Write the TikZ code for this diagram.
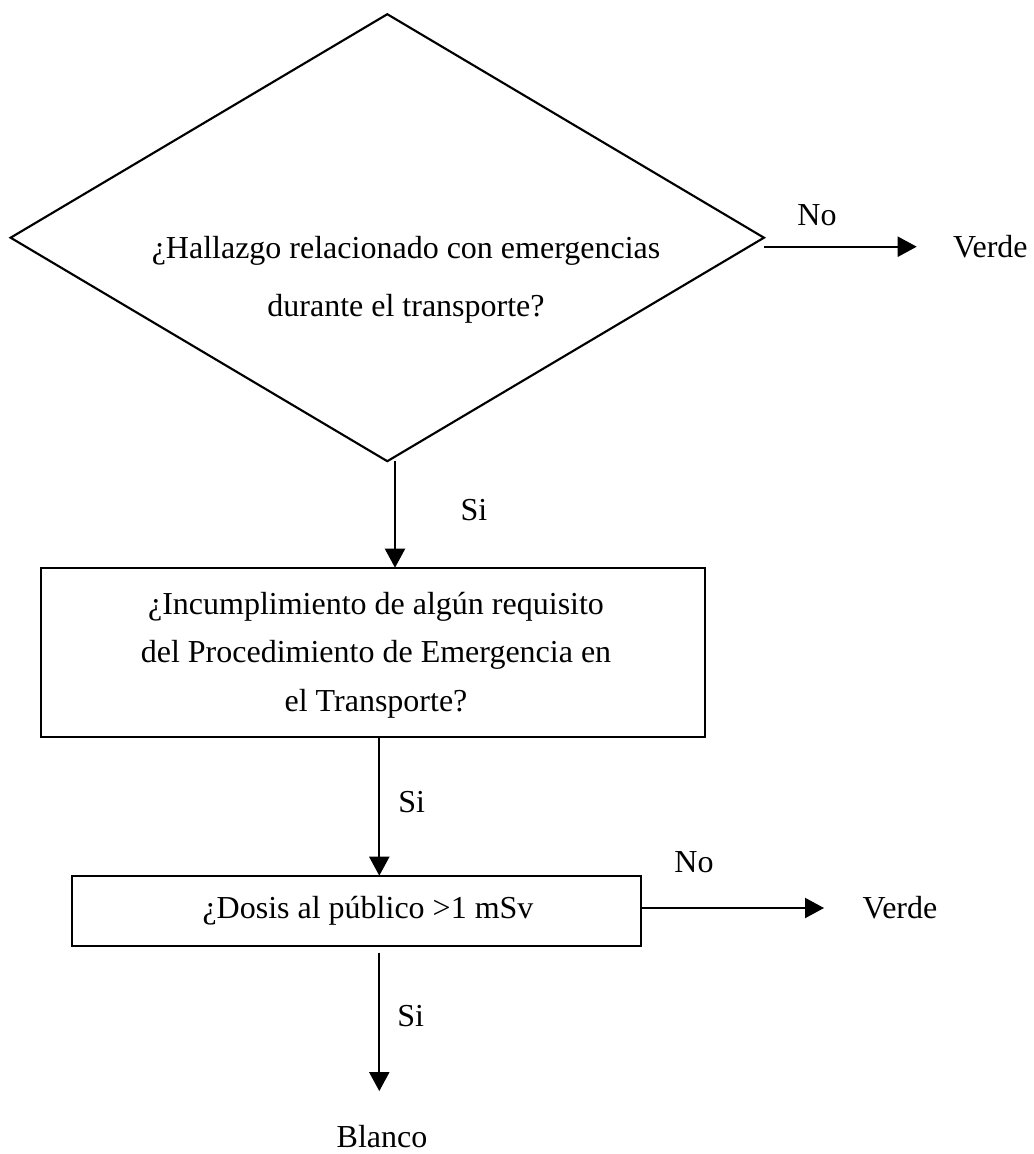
\documentclass[tikz,border=0pt]{standalone}
\usepackage{fontspec}
\setmainfont{Liberation Serif}
\usetikzlibrary{shapes.geometric,arrows.meta}

\begin{document}
\begin{tikzpicture}[x=0.75pt,y=-0.75pt,
  every node/.style={inner sep=0pt,outer sep=0pt},
  txt/.style={font=\fontsize{24}{30}\selectfont},
  boxed/.style={draw,line width=1.6pt,rectangle},
  decision/.style={draw,line width=1.6pt,diamond,aspect=1.7},
  arr/.style={line width=1.6pt,-{Triangle[length=14.25pt,width=15pt]}}
]
\path[use as bounding box] (0,0) rectangle (1033,1154);

% decision diamond and its question
\node[decision,minimum width=565pt,minimum height=335.25pt] (d) at (387.3,237.7) {};
\node[txt,align=center,font=\fontsize{24}{43.5}\selectfont] (dq) at (406,280)
  {¿Hallazgo relacionado con emergencias\\durante el transporte?};

% first check box
\node[boxed,minimum width=498pt,minimum height=127.2pt] (b1) at (373,652.5) {};
\node[txt,align=center,font=\fontsize{24}{36.4}\selectfont] (b1q) at (376,655)
  {¿Incumplimiento de algún requisito\\del Procedimiento de Emergencia en\\el Transporte?};

% dose box
\node[boxed,minimum width=426.75pt,minimum height=52.5pt] (b2) at (356.5,910.7) {};
\node[txt] (b2q) at (368,911) {¿Dosis al público >1 mSv};

% outcomes
\node[txt,anchor=west] (v1) at (953,246.7) {Verde};
\node[txt,anchor=west] (v2) at (862.7,908) {Verde};
\node[txt] (bl) at (382,1137) {Blanco};

% branch labels
\node[txt] (no1) at (817,215) {No};
\node[txt] (no2) at (694,861.7) {No};
\node[txt] (si1) at (474,510) {Si};
\node[txt] (si2) at (411.7,801.7) {Si};
\node[txt] (si3) at (410.7,1016) {Si};

% connector columns
\coordinate (c1) at (395,461);
\coordinate (c2) at (379.3,0);

% connectors
\draw[arr,shorten >=27.2pt] (d.east |- v1.west) -- (v1.west);
\draw[arr] (c1) -- (c1 |- b1.north);
\draw[arr] (c2 |- b1.south) -- (c2 |- b2.north);
\draw[arr,shorten >=29pt] (b2.east |- v2.west) -- (v2.west);
\draw[arr,shorten <=5.25pt,shorten >=26pt] (c2 |- b2.south) -- (c2 |- bl.north);
\end{tikzpicture}
\end{document}
